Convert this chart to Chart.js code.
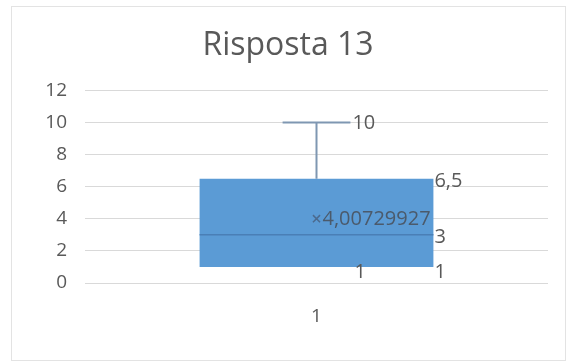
<!DOCTYPE html>
<html>
<head>
<meta charset="utf-8">
<script src="https://cdn.jsdelivr.net/npm/chart.js@4/dist/chart.umd.min.js"></script>
<style>
  html, body { margin: 0; padding: 0; background: #fff; }
  #wrap { position: relative; width: 566px; height: 361px; }
  #frame { position: absolute; left: 11px; top: 6px; width: 555px; height: 355px;
           border: 1px solid #e3e3e3; box-sizing: border-box; pointer-events: none; }
</style>
</head>
<body>
<div id="wrap">
  <canvas id="chart" width="566" height="361"></canvas>
  <div id="frame"></div>
</div>
<script>
// Box-and-whisker values for "Risposta 13"
var categories = ['1'];
var minValues = [1];
var q1Values = [1];
var medianValues = [3];
var q3Values = [6.5];
var maxValues = [10];
var meanValues = [4.00729927];

var yTicks = [0, 2, 4, 6, 8, 10, 12];

var FONT = 'Open Sans';
var TEXT = '#595959';
var BOX = '#5b9bd5';
var WHISKER = '#7f97b2';
var MEDIAN = '#4a7fb6';

// Excel style number: comma as decimal separator
function fmt(v) { return String(v).replace('.', ','); }

// whiskers, median line and data labels, placed through the chart's scales
var boxExtras = {
  id: 'boxExtras',
  afterDatasetsDraw: function(chart) {
    var ctx = chart.ctx;
    var y = chart.scales.y;
    var bars = chart.getDatasetMeta(0).data;
    ctx.save();
    bars.forEach(function(bar, i) {
      var cx = bar.x;
      var half = bar.width / 2;
      var cap = bar.width * 0.145;
      var yMax = y.getPixelForValue(maxValues[i]);
      var yQ3 = y.getPixelForValue(q3Values[i]);
      var yMed = y.getPixelForValue(medianValues[i]);
      var yQ1 = y.getPixelForValue(q1Values[i]);
      var yMin = y.getPixelForValue(minValues[i]);

      ctx.strokeStyle = WHISKER;
      ctx.lineWidth = 2;
      ctx.beginPath();
      ctx.moveTo(cx, yQ3); ctx.lineTo(cx, yMax);
      ctx.moveTo(cx - cap, yMax); ctx.lineTo(cx + cap, yMax);
      ctx.moveTo(cx, yQ1); ctx.lineTo(cx, yMin);
      ctx.stroke();

      ctx.strokeStyle = MEDIAN;
      ctx.lineWidth = 1.5;
      ctx.beginPath();
      ctx.moveTo(cx - half, yMed); ctx.lineTo(cx + half, yMed);
      ctx.stroke();

      ctx.fillStyle = TEXT;
      ctx.font = '20px "' + FONT + '"';
      ctx.textBaseline = 'middle';
      ctx.textAlign = 'left';
      ctx.fillText(fmt(maxValues[i]), cx + cap + 2, yMax + 1);
      ctx.fillText(fmt(q3Values[i]), cx + half + 1, yQ3 + 3);
      ctx.fillText(fmt(medianValues[i]), cx + half + 1, yMed + 2);
      ctx.fillText(fmt(q1Values[i]), cx + half + 1, yQ1 + 5);
      ctx.fillText(fmt(minValues[i]), cx + cap + 4, yMin + 5);
      ctx.fillStyle = '#4b5a6b';
      ctx.fillText(fmt(meanValues[i]), cx + 6, y.getPixelForValue(meanValues[i]) + 1);
    });
    ctx.restore();
  }
};

new Chart(document.getElementById('chart'), {
  data: {
    labels: categories,
    datasets: [{
      type: 'bar',
      order: 1,
      data: q1Values.map(function(v, i) { return [v, q3Values[i]]; }),
      backgroundColor: BOX,
      borderWidth: 0,
      barPercentage: 0.505,
      categoryPercentage: 1
    }, {
      type: 'line',
      order: 0,
      data: meanValues,
      showLine: false,
      pointStyle: 'crossRot',
      pointRadius: 5,
      borderColor: '#4b6a8e',
      borderWidth: 1.5
    }]
  },
  options: {
    responsive: false,
    animation: false,
    layout: { padding: { left: 28, right: 18, top: 0, bottom: 0 } },
    plugins: {
      legend: { display: false },
      tooltip: { enabled: false },
      title: {
        display: true,
        text: 'Risposta 13',
        color: TEXT,
        font: { family: FONT, size: 32, weight: 'normal' },
        padding: { top: 27, bottom: 25 }
      }
    },
    scales: {
      x: {
        afterFit: function(s) { s.height = 78; },
        grid: { display: false, drawTicks: false },
        border: { display: false },
        ticks: { color: TEXT, font: { family: FONT, size: 19 }, padding: 22 }
      },
      y: {
        min: 0, max: 12,
        afterBuildTicks: function(s) { s.ticks = yTicks.map(function(v) { return { value: v }; }); },
        afterFit: function(s) { s.width = 57; },
        grid: { color: '#d9d9d9', drawTicks: false },
        border: { display: false },
        ticks: { color: TEXT, font: { family: FONT, size: 19 }, padding: 18 }
      }
    }
  },
  plugins: [boxExtras]
});
</script>
</body>
</html>
